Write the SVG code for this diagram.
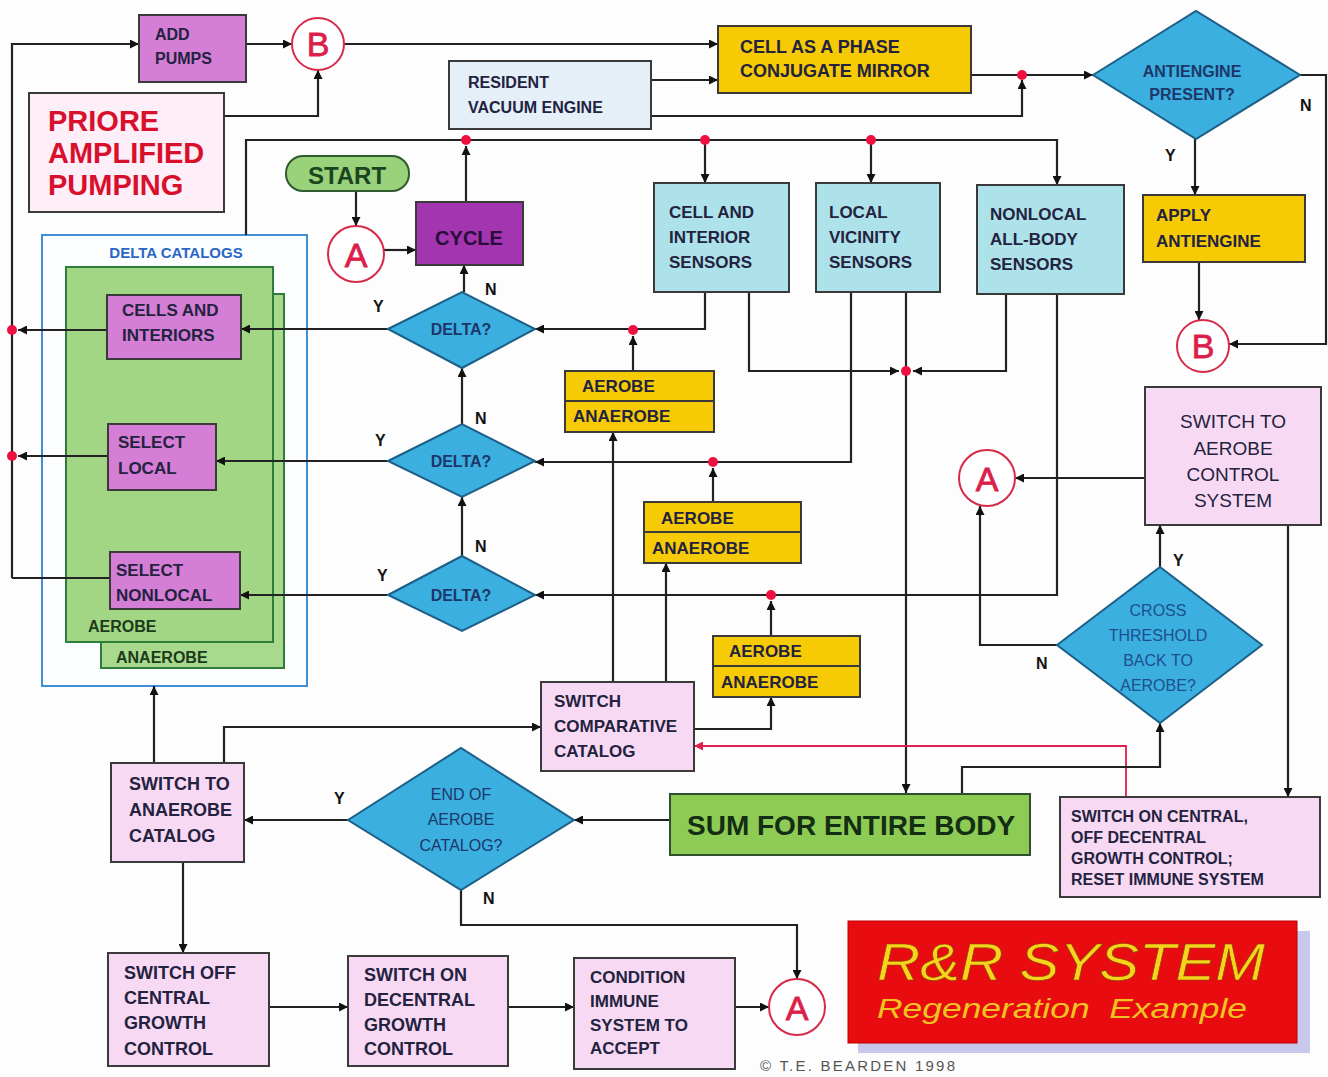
<svg xmlns="http://www.w3.org/2000/svg" width="1328" height="1077" viewBox="0 0 1328 1077">
<defs>
<marker id="ar" viewBox="0 0 10 10" refX="10" refY="5" markerWidth="11" markerHeight="9" markerUnits="userSpaceOnUse" orient="auto"><path d="M0,0 L10,5 L0,10 z" fill="#111"/></marker>
<marker id="arr" viewBox="0 0 10 10" refX="10" refY="5" markerWidth="11" markerHeight="9" markerUnits="userSpaceOnUse" orient="auto"><path d="M0,0 L10,5 L0,10 z" fill="#e0204a"/></marker>
</defs>
<style>
text{font-family:"Liberation Sans",Arial,sans-serif;font-weight:bold;fill:#23223f}
.bx{stroke:#3a3a3a;stroke-width:2}
.orc{fill:#d57ed6}
.pnk{fill:#f8d9f3}
.cyn{fill:#aee2ea}
.yel{fill:#f6cb05}
.dia{fill:#3aafe0;stroke:#1d5f86;stroke-width:2}
.t16{font-size:16px}
.t17{font-size:17px}
.t18{font-size:18px}
.dt{font-size:16px;fill:#1d3768;text-anchor:middle}
.lbl{font-size:16px;fill:#111}
.cir{fill:#fff;stroke:#d62a4a;stroke-width:2}
.ct{font-size:34px;font-weight:normal;fill:#dc1f4a;text-anchor:middle;stroke:#dc1f4a;stroke-width:0.8}
#conn path{fill:none;stroke:#222;stroke-width:2.2}
.dot{fill:#ee1040}
</style>
<rect width="1328" height="1077" fill="#fdfdfd"/>

<g id="delta-catalogs">
<rect x="42" y="235" width="265" height="451" fill="#fbfdff" stroke="#3f8fd8" stroke-width="2"/>
<text x="176" y="258" font-size="15" text-anchor="middle" style="fill:#2a66c4">DELTA CATALOGS</text>
<rect x="101" y="294" width="183" height="374" fill="#a8d98c" stroke="#2e7d3a" stroke-width="2"/>
<text x="116" y="663" class="t16" style="fill:#1c3a1c">ANAEROBE</text>
<rect x="66" y="267" width="207" height="375" fill="#a3d684" stroke="#2e7d3a" stroke-width="2"/>
<text x="88" y="632" class="t16" style="fill:#1c3a1c">AEROBE</text>
</g>

<g id="conn">
<path d="M12,578 V44 H139" marker-end="url(#ar)"/>
<path d="M246,44 H292" marker-end="url(#ar)"/>
<path d="M344,44 H718" marker-end="url(#ar)"/>
<path d="M224,116 H318 V70" marker-end="url(#ar)"/>
<path d="M651,80 H718" marker-end="url(#ar)"/>
<path d="M651,116 H1022 V80" marker-end="url(#ar)"/>
<path d="M971,75 H1093" marker-end="url(#ar)"/>
<path d="M1300,75 H1326 V344 H1229" marker-end="url(#ar)"/>
<path d="M1195,139 V195" marker-end="url(#ar)"/>
<path d="M1199,262 V320" marker-end="url(#ar)"/>
<path d="M246,235 V140 H1057 V185" marker-end="url(#ar)"/>
<path d="M466,202 V146" marker-end="url(#ar)"/>
<path d="M705,140 V183" marker-end="url(#ar)"/>
<path d="M871,140 V183" marker-end="url(#ar)"/>
<path d="M356,191 V226" marker-end="url(#ar)"/>
<path d="M384,250 H416" marker-end="url(#ar)"/>
<path d="M464,292 V265" marker-end="url(#ar)"/>
<path d="M462,424 V368" marker-end="url(#ar)"/>
<path d="M462,556 V497" marker-end="url(#ar)"/>
<path d="M388,329 H241" marker-end="url(#ar)"/>
<path d="M388,461 H216" marker-end="url(#ar)"/>
<path d="M388,595 H240" marker-end="url(#ar)"/>
<path d="M107,330 H18" marker-end="url(#ar)"/>
<path d="M108,456 H18" marker-end="url(#ar)"/>
<path d="M110,578 H12"/>
<path d="M705,292 V329 H535" marker-end="url(#ar)"/>
<path d="M851,292 V462 H535" marker-end="url(#ar)"/>
<path d="M1057,294 V595 H535" marker-end="url(#ar)"/>
<path d="M633,371 V336" marker-end="url(#ar)"/>
<path d="M713,502 V468" marker-end="url(#ar)"/>
<path d="M771,636 V601" marker-end="url(#ar)"/>
<path d="M749,292 V371 H899" marker-end="url(#ar)"/>
<path d="M1006,294 V371 H913" marker-end="url(#ar)"/>
<path d="M906,292 V793" marker-end="url(#ar)"/>
<path d="M613,682 V432" marker-end="url(#ar)"/>
<path d="M666,682 V563" marker-end="url(#ar)"/>
<path d="M694,729 H771 V697" marker-end="url(#ar)"/>
<path d="M1126,797 V746 H694" marker-end="url(#arr)" style="stroke:#e0204a;stroke-width:1.8"/>
<path d="M154,763 V686" marker-end="url(#ar)"/>
<path d="M224,763 V727 H541" marker-end="url(#ar)"/>
<path d="M671,820 H574" marker-end="url(#ar)"/>
<path d="M348,820 H244" marker-end="url(#ar)"/>
<path d="M461,890 V925 H797 V979" marker-end="url(#ar)"/>
<path d="M962,794 V767 H1160 V723" marker-end="url(#ar)"/>
<path d="M1160,567 V525" marker-end="url(#ar)"/>
<path d="M1057,645 H980 V506" marker-end="url(#ar)"/>
<path d="M1145,478 H1015" marker-end="url(#ar)"/>
<path d="M1288,525 V797" marker-end="url(#ar)"/>
<path d="M183,862 V953" marker-end="url(#ar)"/>
<path d="M269,1007 H348" marker-end="url(#ar)"/>
<path d="M508,1007 H574" marker-end="url(#ar)"/>
<path d="M735,1007 H769" marker-end="url(#ar)"/>
<circle class="dot" cx="12" cy="330" r="5"/>
<circle class="dot" cx="12" cy="456" r="5"/>
<circle class="dot" cx="466" cy="140" r="5"/>
<circle class="dot" cx="705" cy="140" r="5"/>
<circle class="dot" cx="871" cy="140" r="5"/>
<circle class="dot" cx="1022" cy="75" r="5"/>
<circle class="dot" cx="633" cy="330" r="5"/>
<circle class="dot" cx="713" cy="462" r="5"/>
<circle class="dot" cx="771" cy="595" r="5"/>
<circle class="dot" cx="906" cy="371" r="5"/>
</g>

<g id="add-pumps"><rect class="bx orc" x="139" y="15" width="107" height="67"/><text class="t16" x="155" y="40">ADD</text><text class="t16" x="155" y="64">PUMPS</text></g>
<g id="b-top"><circle class="cir" cx="318" cy="44" r="26"/><text class="ct" x="318" y="56">B</text></g>
<g id="priore"><rect class="bx" x="29" y="93" width="195" height="119" fill="#fdeef8"/>
<text x="48" y="131" font-size="29" style="fill:#d8102c">PRIORE</text>
<text x="48" y="163" font-size="29" style="fill:#d8102c">AMPLIFIED</text>
<text x="48" y="195" font-size="29" style="fill:#d8102c">PUMPING</text></g>
<g id="resident"><rect class="bx" x="449" y="61" width="202" height="68" fill="#e4eff8"/><text class="t16" x="468" y="88">RESIDENT</text><text class="t16" x="468" y="113">VACUUM ENGINE</text></g>
<g id="mirror"><rect class="bx yel" x="718" y="26" width="253" height="67"/><text class="t18" x="740" y="53">CELL AS A PHASE</text><text class="t18" x="740" y="77">CONJUGATE MIRROR</text></g>
<g id="antiengine"><polygon class="dia" points="1093,75 1196,11 1300,75 1196,139"/><text class="dt" x="1192" y="77" font-size="17">ANTIENGINE</text><text class="dt" x="1192" y="100">PRESENT?</text></g>
<g id="apply"><rect class="bx yel" x="1143" y="195" width="162" height="67"/><text class="t17" x="1156" y="221">APPLY</text><text class="t17" x="1156" y="247">ANTIENGINE</text></g>
<g id="b-right"><circle class="cir" cx="1203" cy="346" r="26"/><text class="ct" x="1203" y="358">B</text></g>
<g id="start"><rect x="286" y="156" width="123" height="35" rx="17" fill="#9ad17b" stroke="#2f5a2f" stroke-width="2"/><text x="347" y="184" font-size="24" text-anchor="middle" style="fill:#1b4420">START</text></g>
<g id="a-start"><circle class="cir" cx="356" cy="254" r="28"/><text class="ct" x="356" y="267">A</text></g>
<g id="cycle"><rect class="bx" x="416" y="202" width="107" height="63" fill="#a435b1"/><text x="469" y="245" font-size="20" text-anchor="middle" style="fill:#2a0c3a">CYCLE</text></g>
<g id="s-cell"><rect class="bx cyn" x="654" y="183" width="135" height="109"/><text class="t17" x="669" y="218">CELL AND</text><text class="t17" x="669" y="243">INTERIOR</text><text class="t17" x="669" y="268">SENSORS</text></g>
<g id="s-local"><rect class="bx cyn" x="816" y="183" width="124" height="109"/><text class="t17" x="829" y="218">LOCAL</text><text class="t17" x="829" y="243">VICINITY</text><text class="t17" x="829" y="268">SENSORS</text></g>
<g id="s-nonlocal"><rect class="bx cyn" x="977" y="185" width="147" height="109"/><text class="t17" x="990" y="220">NONLOCAL</text><text class="t17" x="990" y="245">ALL-BODY</text><text class="t17" x="990" y="270">SENSORS</text></g>
<g id="cells-interiors"><rect class="bx orc" x="107" y="295" width="134" height="64"/><text class="t17" x="122" y="316">CELLS AND</text><text class="t17" x="122" y="341">INTERIORS</text></g>
<g id="select-local"><rect class="bx orc" x="108" y="424" width="108" height="66"/><text class="t17" x="118" y="448">SELECT</text><text class="t17" x="118" y="474">LOCAL</text></g>
<g id="select-nonlocal"><rect class="bx orc" x="110" y="552" width="130" height="57"/><text class="t17" x="116" y="576">SELECT</text><text class="t17" x="116" y="601">NONLOCAL</text></g>
<g id="delta1"><polygon class="dia" points="388,329 462,292 535,329 462,368"/><text class="dt" x="461" y="335">DELTA?</text></g>
<g id="delta2"><polygon class="dia" points="388,461 462,424 535,461 462,497"/><text class="dt" x="461" y="467">DELTA?</text></g>
<g id="delta3"><polygon class="dia" points="388,595 462,556 535,595 462,631"/><text class="dt" x="461" y="601">DELTA?</text></g>
<g id="labels-yn">
<text class="lbl" x="373" y="312">Y</text><text class="lbl" x="485" y="295">N</text>
<text class="lbl" x="375" y="446">Y</text><text class="lbl" x="475" y="424">N</text>
<text class="lbl" x="377" y="581">Y</text><text class="lbl" x="475" y="552">N</text>
<text class="lbl" x="1300" y="111">N</text><text class="lbl" x="1165" y="161">Y</text>
<text class="lbl" x="1173" y="566">Y</text><text class="lbl" x="1036" y="669">N</text>
<text class="lbl" x="334" y="804">Y</text><text class="lbl" x="483" y="904">N</text>
</g>
<g id="ae1"><rect class="bx yel" x="565" y="371" width="149" height="61"/><line x1="565" y1="401" x2="714" y2="401" stroke="#3a3a3a" stroke-width="2"/><text class="t17" x="582" y="392">AEROBE</text><text class="t17" x="573" y="422">ANAEROBE</text></g>
<g id="ae2"><rect class="bx yel" x="644" y="502" width="157" height="61"/><line x1="644" y1="532" x2="801" y2="532" stroke="#3a3a3a" stroke-width="2"/><text class="t17" x="661" y="524">AEROBE</text><text class="t17" x="652" y="554">ANAEROBE</text></g>
<g id="ae3"><rect class="bx yel" x="713" y="636" width="147" height="61"/><line x1="713" y1="666" x2="860" y2="666" stroke="#3a3a3a" stroke-width="2"/><text class="t17" x="729" y="657">AEROBE</text><text class="t17" x="721" y="688">ANAEROBE</text></g>
<g id="switch-comp"><rect class="bx pnk" x="541" y="682" width="153" height="89"/><text class="t17" x="554" y="707">SWITCH</text><text class="t17" x="554" y="732">COMPARATIVE</text><text class="t17" x="554" y="757">CATALOG</text></g>
<g id="a-mid"><circle class="cir" cx="987" cy="478" r="28"/><text class="ct" x="987" y="491">A</text></g>
<g id="switch-aerobe"><rect class="bx pnk" x="1145" y="387" width="176" height="138"/>
<text x="1233" y="428" font-size="19" text-anchor="middle" style="font-weight:normal">SWITCH TO</text>
<text x="1233" y="455" font-size="19" text-anchor="middle" style="font-weight:normal">AEROBE</text>
<text x="1233" y="481" font-size="19" text-anchor="middle" style="font-weight:normal">CONTROL</text>
<text x="1233" y="507" font-size="19" text-anchor="middle" style="font-weight:normal">SYSTEM</text></g>
<g id="cross"><polygon class="dia" points="1057,645 1160,567 1262,645 1160,723"/>
<text x="1158" y="616" font-size="16" text-anchor="middle" style="font-weight:normal;fill:#1f4f8c">CROSS</text>
<text x="1158" y="641" font-size="16" text-anchor="middle" style="font-weight:normal;fill:#1f4f8c">THRESHOLD</text>
<text x="1158" y="666" font-size="16" text-anchor="middle" style="font-weight:normal;fill:#1f4f8c">BACK TO</text>
<text x="1158" y="691" font-size="16" text-anchor="middle" style="font-weight:normal;fill:#1f4f8c">AEROBE?</text></g>
<g id="switch-anaerobe"><rect class="bx pnk" x="111" y="763" width="133" height="99"/><text class="t18" x="129" y="790">SWITCH TO</text><text class="t18" x="129" y="816">ANAEROBE</text><text class="t18" x="129" y="842">CATALOG</text></g>
<g id="end-aerobe"><polygon class="dia" points="348,820 461,748 574,820 461,890"/><text class="dt" x="461" y="800" style="font-weight:normal">END OF</text><text class="dt" x="461" y="825" style="font-weight:normal">AEROBE</text><text class="dt" x="461" y="851" style="font-weight:normal">CATALOG?</text></g>
<g id="sum"><rect class="bx" x="670" y="794" width="360" height="61" fill="#8dcb55" style="stroke:#2f4f2f"/><text x="687" y="835" font-size="28" style="fill:#132e13">SUM FOR ENTIRE BODY</text></g>
<g id="switch-central"><rect class="bx pnk" x="1060" y="797" width="260" height="100"/><text class="t16" x="1071" y="822">SWITCH ON CENTRAL,</text><text class="t16" x="1071" y="843">OFF DECENTRAL</text><text class="t16" x="1071" y="864">GROWTH CONTROL;</text><text class="t16" x="1071" y="885">RESET IMMUNE SYSTEM</text></g>
<g id="switch-off"><rect class="bx pnk" x="108" y="953" width="161" height="113"/><text class="t18" x="124" y="979">SWITCH OFF</text><text class="t18" x="124" y="1004">CENTRAL</text><text class="t18" x="124" y="1029">GROWTH</text><text class="t18" x="124" y="1055">CONTROL</text></g>
<g id="switch-on"><rect class="bx pnk" x="348" y="956" width="160" height="110"/><text class="t18" x="364" y="981">SWITCH ON</text><text class="t18" x="364" y="1006">DECENTRAL</text><text class="t18" x="364" y="1031">GROWTH</text><text class="t18" x="364" y="1055">CONTROL</text></g>
<g id="condition"><rect class="bx pnk" x="574" y="958" width="161" height="111"/><text class="t17" x="590" y="983">CONDITION</text><text class="t17" x="590" y="1007">IMMUNE</text><text class="t17" x="590" y="1031">SYSTEM TO</text><text class="t17" x="590" y="1054">ACCEPT</text></g>
<g id="a-bottom"><circle class="cir" cx="797" cy="1007" r="28"/><text class="ct" x="797" y="1020">A</text></g>
<g id="title">
<rect x="858" y="931" width="452" height="122" fill="#c8c8ec"/>
<rect x="848" y="921" width="449" height="122" fill="#e80c10" stroke="#b00" stroke-width="1"/>
<text x="877" y="980" font-size="52" font-style="italic" textLength="388" lengthAdjust="spacingAndGlyphs" style="font-weight:normal;fill:#f8d21c;stroke:#7a4a00;stroke-width:0.6">R&amp;R SYSTEM</text>
<text x="877" y="1018" font-size="27" font-style="italic" textLength="370" lengthAdjust="spacingAndGlyphs" style="font-weight:normal;fill:#f0c420" xml:space="preserve">Regeneration  Example</text>
</g>
<text x="760" y="1071" font-size="15" textLength="195" style="font-weight:normal;fill:#555">© T.E. BEARDEN 1998</text>
</svg>
